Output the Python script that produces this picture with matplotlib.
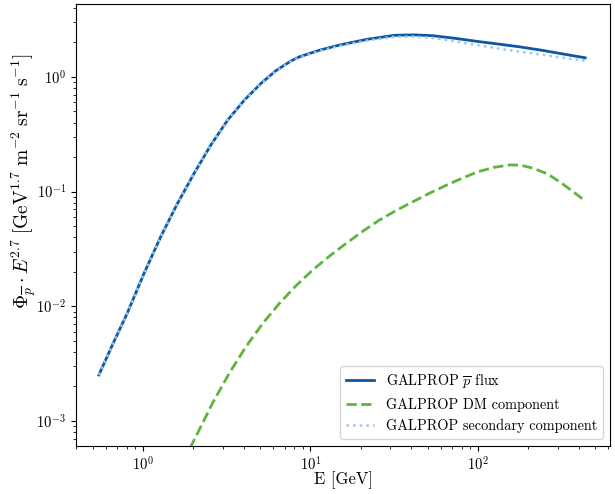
import matplotlib
matplotlib.use("Agg")
import matplotlib.pyplot as plt

plt.rcParams['font.family'] = 'serif'
plt.rcParams['font.serif'] = ['cmr10', 'DejaVu Serif']
plt.rcParams['mathtext.fontset'] = 'cm'
plt.rcParams['axes.formatter.use_mathtext'] = True

# total flux and secondary component
energy = [0.545, 0.662, 0.805, 1.013, 1.276, 1.606, 2.02, 2.54, 3.2, 4.03, 5.07, 6.23,
          7.66, 8.6, 11.3, 14.9, 21.8, 31.8, 41.4, 54, 73.5, 100, 135, 178, 235, 320, 437]
total_flux = [2.52e-3, 4.73e-3, 8.7e-3, 0.0193, 0.0405, 0.0789, 0.1445, 0.2547, 0.42,
              0.629, 0.88, 1.137, 1.38, 1.50, 1.71, 1.90, 2.13, 2.31, 2.33, 2.29, 2.17,
              2.04, 1.93, 1.83, 1.72, 1.59, 1.47]
secondary_flux = [2.52e-3, 4.73e-3, 8.7e-3, 0.0193, 0.0405, 0.0789, 0.1445, 0.2547, 0.42,
                  0.625, 0.873, 1.127, 1.366, 1.484, 1.687, 1.869, 2.082, 2.244, 2.248,
                  2.19, 2.044, 1.891, 1.764, 1.66, 1.57, 1.474, 1.387]

# dark matter component
dm_energy = [1.6, 1.93, 2.25, 2.6, 3.27, 4.12, 5.18, 6.52, 8.2, 10.3, 13, 16.4, 20.6,
             25.9, 32.6, 41, 51.6, 65, 81, 100, 125, 156, 180, 214, 260, 310, 370, 437]
dm_flux = [3.4e-4, 5.98e-4, 9.33e-4, 1.43e-3, 2.60e-3, 4.45e-3, 7.06e-3, 0.0106, 0.01513,
           0.0207, 0.02744, 0.0355, 0.0453, 0.0567, 0.0687, 0.0818, 0.0971, 0.114, 0.1315,
           0.149, 0.163, 0.171, 0.170, 0.160, 0.143, 0.121, 0.100, 0.083]

fig, ax = plt.subplots(figsize=(6.15, 4.94), dpi=100)
fig.subplots_adjust(left=0.1236, right=0.9919, top=0.9919, bottom=0.0972)

ax.plot(energy, total_flux, color='#0b57a4', lw=2, label=r'GALPROP $\overline{p}$ flux')
ax.plot(dm_energy, dm_flux, color='#5db53e', lw=2, ls='--', label='GALPROP DM component')
ax.plot(energy, secondary_flux, color='#9ec6ec', lw=1.8, ls=':', label='GALPROP secondary component')

ax.set_xscale('log')
ax.set_yscale('log')
ax.set_xlim(0.398, 615)
ax.set_ylim(6.05e-4, 4.33)

ax.set_xlabel('E [GeV]', fontsize=12, labelpad=-2)
ax.set_ylabel(r'$\Phi_{\overline{p}} \cdot E^{2.7}\;[\mathrm{GeV}^{1.7}\;\mathrm{m}^{-2}\;\mathrm{sr}^{-1}\;\mathrm{s}^{-1}]$',
              fontsize=14)
ax.yaxis.set_label_coords(-0.071, 0.6)
ax.tick_params(labelsize=10.5)
ax.legend(loc='lower right', fontsize=10.3)

fig.savefig('out.png', dpi=100)
